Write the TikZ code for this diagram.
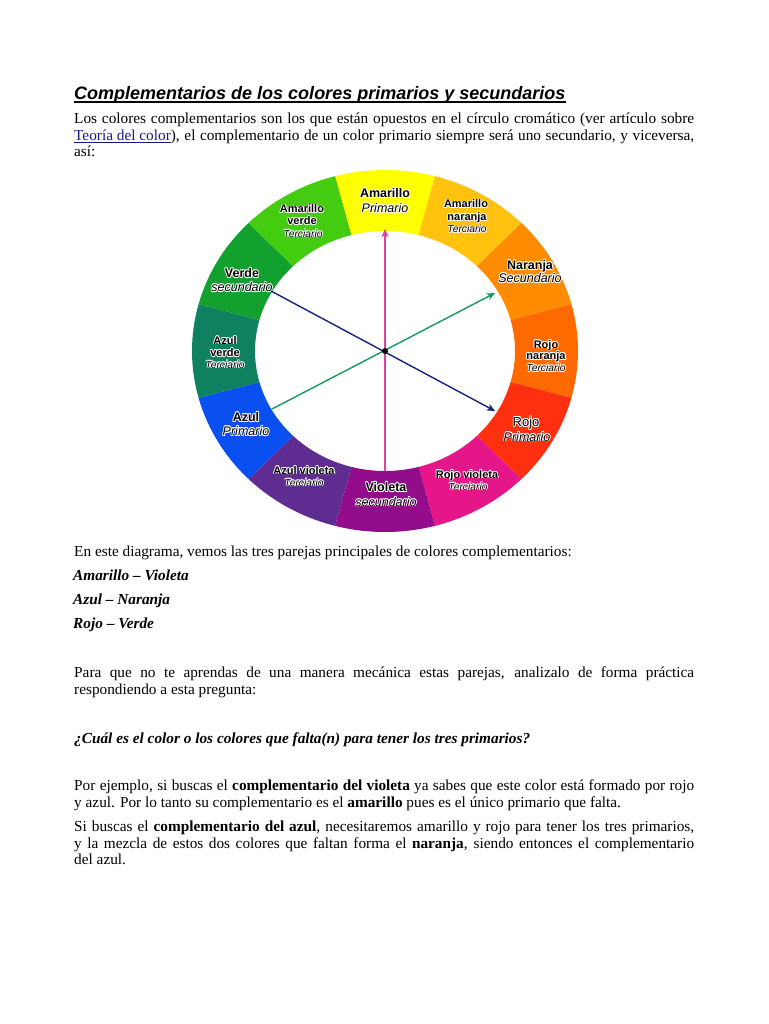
\documentclass[tikz,border=0pt]{standalone}
\usepackage{fontspec}
\setmainfont{Liberation Serif}
\newfontfamily\lsans{Liberation Sans}
\usetikzlibrary{arrows.meta,calc}
\definecolor{cAm}{HTML}{FFFF00}
\definecolor{cAmNa}{HTML}{FFC20E}
\definecolor{cNa}{HTML}{FF8C00}
\definecolor{cRoNa}{HTML}{FF6A00}
\definecolor{cRo}{HTML}{FF3010}
\definecolor{cRoVi}{HTML}{E5168A}
\definecolor{cVi}{HTML}{920C8C}
\definecolor{cAzVi}{HTML}{5F2D91}
\definecolor{cAz}{HTML}{0A50F0}
\definecolor{cAzVe}{HTML}{0F8060}
\definecolor{cVe}{HTML}{12A02E}
\definecolor{cAmVe}{HTML}{44CC10}
\definecolor{linkc}{HTML}{1A1A8C}
\definecolor{pinkc}{HTML}{E0409F}
\definecolor{bluec}{HTML}{14237F}
\definecolor{greenc}{HTML}{159A60}
\newcommand\jl[1]{\makebox[620pt][s]{#1}}
\newcommand\wl[4]{%
  \foreach \k in {0,45,...,315}{\node[wlab,#3,text=white] at ([shift={(\k:0.8)}]#2) {#4};}
  \node[wlab,#3] (#1) at (#2) {#4};}
\begin{document}
\begin{tikzpicture}[x=1pt,y=1pt,
  body/.style={anchor=base west,inner sep=0pt,font=\fontsize{15.3}{17}\selectfont},
  bi/.style={font=\bfseries\itshape\fontsize{15.3}{17}\selectfont},
  wlab/.style={anchor=base,inner sep=0pt,text=black},
  pb/.style={font=\lsans\bfseries\fontsize{12.5}{15}\selectfont},
  pr/.style={font=\lsans\fontsize{13}{15}\selectfont},
  pit/.style={font=\lsans\itshape\fontsize{12.5}{15}\selectfont},
  tb/.style={font=\lsans\bfseries\fontsize{11}{12}\selectfont},
  tit/.style={font=\lsans\itshape\fontsize{10.3}{12}\selectfont},
  arr/.style={-{Stealth[length=8pt,width=7pt,inset=2pt]},line width=1.4pt}]
\useasboundingbox (0,0) rectangle (768,-1024);
\fill[white] (0,0) rectangle (768,-1024);

% title
\node[anchor=base west,inner sep=0pt,font=\lsans\bfseries\itshape\fontsize{18}{20}\selectfont] (title) at (74,-99.5) {Complementarios de los colores primarios y secundarios};
\draw[line width=1.3pt] ([yshift=-2.5pt]title.base west) -- ([yshift=-2.5pt]title.base east);

\node[body] (t1) at (74,-124) {\jl{Los colores complementarios son los que están opuestos en el círculo cromático (ver artículo sobre}};
\node[body] (t2) at (74,-141) {\jl{\textcolor{linkc}{\underline{Teoría del color}}), el complementario de un color primario siempre será uno secundario, y viceversa,}};
\node[body] (t3) at (74,-157) {así:};

% wheel
\coordinate (C) at (385,-351);
\begin{scope}[shift={(385,-351)}]
\foreach \a/\c in {90/cAm,60/cAmNa,30/cNa,0/cRoNa,-30/cRo,-60/cRoVi,-90/cVi,-120/cAzVi,-150/cAz,180/cAzVe,150/cVe,120/cAmVe}{
  \fill[\c] ({\a-15}:193 and 181) arc[start angle=\a-15,end angle=\a+15,x radius=193,y radius=181]
    -- ({\a+15}:130 and 120) arc[start angle=\a+15,end angle=\a-15,x radius=130,y radius=120] -- cycle;
}
\end{scope}

% labels
\wl{am1}{385,-197.5}{pb}{Amarillo}
\wl{am2}{385,-212.5}{pit}{Primario}
\wl{amn1}{466,-208}{tb}{Amarillo}
\wl{amn2}{467,-220.5}{tb}{naranja}
\wl{amn3}{467,-233}{tit}{Terciario}
\wl{na1}{530,-269.5}{pb}{Naranja}
\wl{na2}{530,-282.5}{pit}{Secundario}
\wl{ron1}{546,-348}{tb}{Rojo}
\wl{ron2}{546,-359.5}{tb}{naranja}
\wl{ron3}{546,-371.5}{tit}{Terciario}
\wl{ro1}{526,-426.5}{pr}{Rojo}
\wl{ro2}{527,-441}{pit}{Primario}
\wl{rov1}{467,-478}{tb}{Rojo violeta}
\wl{rov2}{468,-490}{tit}{Terciario}
\wl{vi1}{386,-491.5}{pb}{Violeta}
\wl{vi2}{386,-506}{pit}{secundario}
\wl{azv1}{304,-474}{tb}{Azul violeta}
\wl{azv2}{304,-486}{tit}{Terciario}
\wl{az1}{246,-421.5}{pb}{Azul}
\wl{az2}{246,-435.5}{pit}{Primario}
\wl{azve1}{225,-344}{tb}{Azul}
\wl{azve2}{225,-356.5}{tb}{verde}
\wl{azve3}{225,-368}{tit}{Terciario}
\wl{ve1}{242,-277.5}{pb}{Verde}
\wl{ve2}{242,-291.5}{pit}{secundario}
\wl{amv1}{302,-213}{tb}{Amarillo}
\wl{amv2}{302,-224.5}{tb}{verde}
\wl{amv3}{303,-237}{tit}{Terciario}

% arrows
\coordinate (pinkTop) at (385,-229);
\coordinate (pinkBot) at (385,-471);
\coordinate (blueS) at (271,-291);
\coordinate (blueE) at (495,-411);
\coordinate (greenS) at (272,-409);
\coordinate (greenE) at (495,-293);
\draw[arr,pinkc] (pinkBot) -- (pinkTop);
\draw[arr,greenc] (greenS) -- (greenE);
\draw[arr,bluec] (blueS) -- (blueE);
\node[circle,fill=black,inner sep=0pt,minimum size=6pt] (dot) at (C) {};

% text below
\node[body] (t4) at (74,-556) {En este diagrama, vemos las tres parejas principales de colores complementarios:};
\node[body,bi] (p1) at (73,-580) {Amarillo – Violeta};
\node[body,bi] (p2) at (73,-604) {Azul – Naranja};
\node[body,bi] (p3) at (73,-628) {Rojo – Verde};
\node[body] (t5) at (74,-677) {\jl{Para que no te aprendas de una manera mecánica estas parejas, analizalo de forma práctica}};
\node[body] (t6) at (74,-694) {respondiendo a esta pregunta:};
\node[body,bi] (q) at (74,-743) {¿Cuál es el color o los colores que falta(n) para tener los tres primarios?};
\node[body] (t7) at (74,-790) {\jl{Por ejemplo, si buscas el \textbf{complementario del violeta} ya sabes que este color está formado por rojo}};
\node[body] (t8) at (74,-807) {y azul. Por lo tanto su complementario es el \textbf{amarillo} pues es el único primario que falta.};
\node[body] (t9) at (74,-831) {\jl{Si buscas el \textbf{complementario del azul}, necesitaremos amarillo y rojo para tener los tres primarios,}};
\node[body] (t10) at (74,-848) {\jl{y la mezcla de estos dos colores que faltan forma el \textbf{naranja}, siendo entonces el complementario}};
\node[body] (t11) at (74,-864) {del azul.};
\end{tikzpicture}
\end{document}
